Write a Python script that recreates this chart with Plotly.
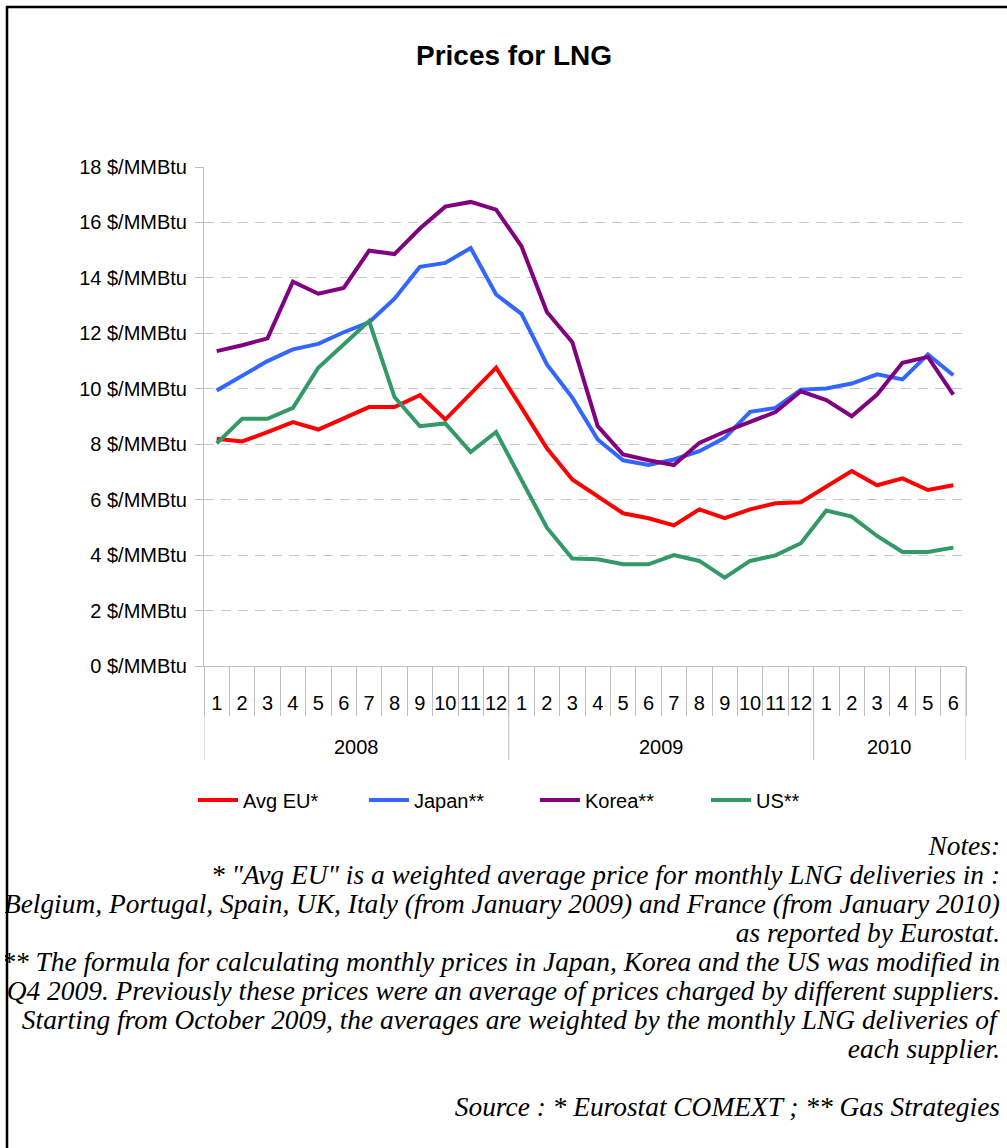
import plotly.graph_objects as go

# Monthly LNG prices, $/MMBtu
years = ["2008"] * 12 + ["2009"] * 12 + ["2010"] * 6
months = [str(m) for m in range(1, 13)] * 2 + [str(m) for m in range(1, 7)]
year_labels = ["2008", "2009", "2010"]

avg_eu = [8.20, 8.10, 8.44, 8.80, 8.53, 8.92, 9.34, 9.34, 9.77, 8.89, 9.83, 10.76,
          9.32, 7.85, 6.73, 6.13, 5.51, 5.33, 5.07, 5.65, 5.33, 5.65, 5.87, 5.91,
          6.46, 7.03, 6.52, 6.77, 6.35, 6.52]
japan = [9.94, 10.45, 11.00, 11.42, 11.62, 12.04, 12.40, 13.25, 14.40, 14.54, 15.08, 13.40,
         12.70, 10.88, 9.68, 8.17, 7.42, 7.25, 7.45, 7.75, 8.23, 9.17, 9.31, 9.97,
         10.01, 10.19, 10.52, 10.34, 11.24, 10.49]
korea = [11.36, 11.57, 11.82, 13.86, 13.43, 13.64, 14.98, 14.86, 15.78, 16.57, 16.74, 16.46,
         15.14, 12.77, 11.68, 8.65, 7.63, 7.42, 7.25, 8.05, 8.45, 8.80, 9.16, 9.91,
         9.59, 9.01, 9.79, 10.94, 11.15, 9.79]
us = [8.03, 8.92, 8.92, 9.31, 10.76, 11.62, 12.44, 9.70, 8.65, 8.75, 7.72, 8.44,
      6.70, 4.99, 3.88, 3.85, 3.67, 3.67, 4.00, 3.79, 3.19, 3.79, 3.99, 4.43,
      5.61, 5.39, 4.69, 4.11, 4.11, 4.27]

series = [
    ("Avg EU*", avg_eu, "#FF0000"),
    ("Japan**", japan, "#3366FF"),
    ("Korea**", korea, "#800080"),
    ("US**", us, "#339966"),
]

notes = [
    "Notes:",
    "* \"Avg EU\" is a weighted average price for monthly LNG deliveries in :",
    "Belgium, Portugal, Spain, UK, Italy (from January 2009) and France (from January 2010)",
    "as reported by Eurostat.",
    "** The formula for calculating monthly prices in Japan, Korea and the US was modified in",
    "Q4 2009. Previously these prices were an average of prices charged by different suppliers.",
    "Starting from October 2009, the averages are weighted by the monthly LNG deliveries of",
    "each supplier.",
    "",
    "Source : * Eurostat COMEXT ; ** Gas Strategies",
]

# one category per month; the tick text shows just the month number
cats = [f"{y}-{m}" for y, m in zip(years, months)]
n = len(cats)

# year groups: label positions and boundaries in category index units
group_centers, group_edges = [], [-0.5]
start = 0
for yl in year_labels:
    count = years.count(yl)
    group_centers.append(start + (count - 1) / 2)
    start += count
    group_edges.append(start - 0.5)

W, H = 1007, 1148
L, R, T, B = 204, 966, 167, 666  # plot area in pixels


def px_x(x):
    return (x - L) / (R - L)


def px_y(y):
    return (B - y) / (B - T)


fig = go.Figure()
for name, vals, color in series:
    fig.add_trace(go.Scatter(
        x=cats, y=vals, name=name, mode="lines",
        line=dict(color=color, width=4),
    ))

axis_grey = "#bfbfbf"
font_sans = "Liberation Sans, Arial, sans-serif"
font_serif = "Liberation Serif, Times New Roman, serif"

shapes = [dict(
    type="rect", xref="paper", yref="paper",
    x0=px_x(7), x1=px_x(1020), y0=px_y(1160), y1=px_y(7),
    line=dict(color="black", width=2.5), fillcolor="rgba(0,0,0,0)", layer="above",
)]
# year group dividers below the month labels
for e in group_edges:
    shapes.append(dict(
        type="line", xref="x", yref="paper", x0=e, x1=e, y0=px_y(760), y1=0,
        line=dict(color=axis_grey, width=1),
    ))

annotations = []
for c, yl in zip(group_centers, year_labels):
    annotations.append(dict(
        text=yl, xref="x", yref="paper", x=c, y=px_y(747),
        xanchor="center", yanchor="middle", showarrow=False,
        font=dict(size=20, color="black"),
    ))

# right-aligned notes block, one line per annotation in a fixed-width box
line_y0, line_step = 846, 29
for i, txt in enumerate(notes):
    if not txt:
        continue
    annotations.append(dict(
        text=txt, xref="paper", yref="paper",
        x=px_x(1001), y=px_y(line_y0 + i * line_step),
        xanchor="right", yanchor="middle", showarrow=False,
        width=995, align="right", borderpad=0,
        font=dict(family=font_serif, size=27.4, color="black", style="italic"),
    ))

fig.update_layout(
    width=W, height=H,
    margin=dict(l=L, r=W - R, t=T, b=H - B),
    paper_bgcolor="white", plot_bgcolor="white",
    font=dict(family=font_sans, size=20, color="black"),
    title=dict(text="<b>Prices for LNG</b>", x=px_x(514), xref="paper", xanchor="center",
               y=1 - 55 / H, yanchor="middle", font=dict(size=28, color="black")),
    xaxis=dict(
        type="category", range=[-0.5, n - 0.5],
        tickmode="array", tickvals=cats, ticktext=months, tickangle=0,
        showline=True, linecolor=axis_grey, linewidth=1,
        ticks="outside", tickson="boundaries", ticklen=49, tickcolor=axis_grey,
        showgrid=False, tickfont=dict(size=20), ticklabelstandoff=19,
    ),
    yaxis=dict(
        range=[0, 18], dtick=2, ticksuffix=" $/MMBtu",
        showgrid=True, gridcolor="#c8c8c8", griddash="10px,7px", gridwidth=1,
        showline=True, linecolor=axis_grey, linewidth=1,
        ticks="outside", ticklen=8, tickcolor=axis_grey,
        zeroline=False, tickfont=dict(size=20), ticklabelstandoff=4,
    ),
    legend=dict(
        orientation="h", x=px_x(193), y=px_y(800), xanchor="left", yanchor="middle",
        font=dict(size=20), itemwidth=40, entrywidth=116, bgcolor="rgba(0,0,0,0)",
    ),
    shapes=shapes,
    annotations=annotations,
)

fig.write_html("out.html")
